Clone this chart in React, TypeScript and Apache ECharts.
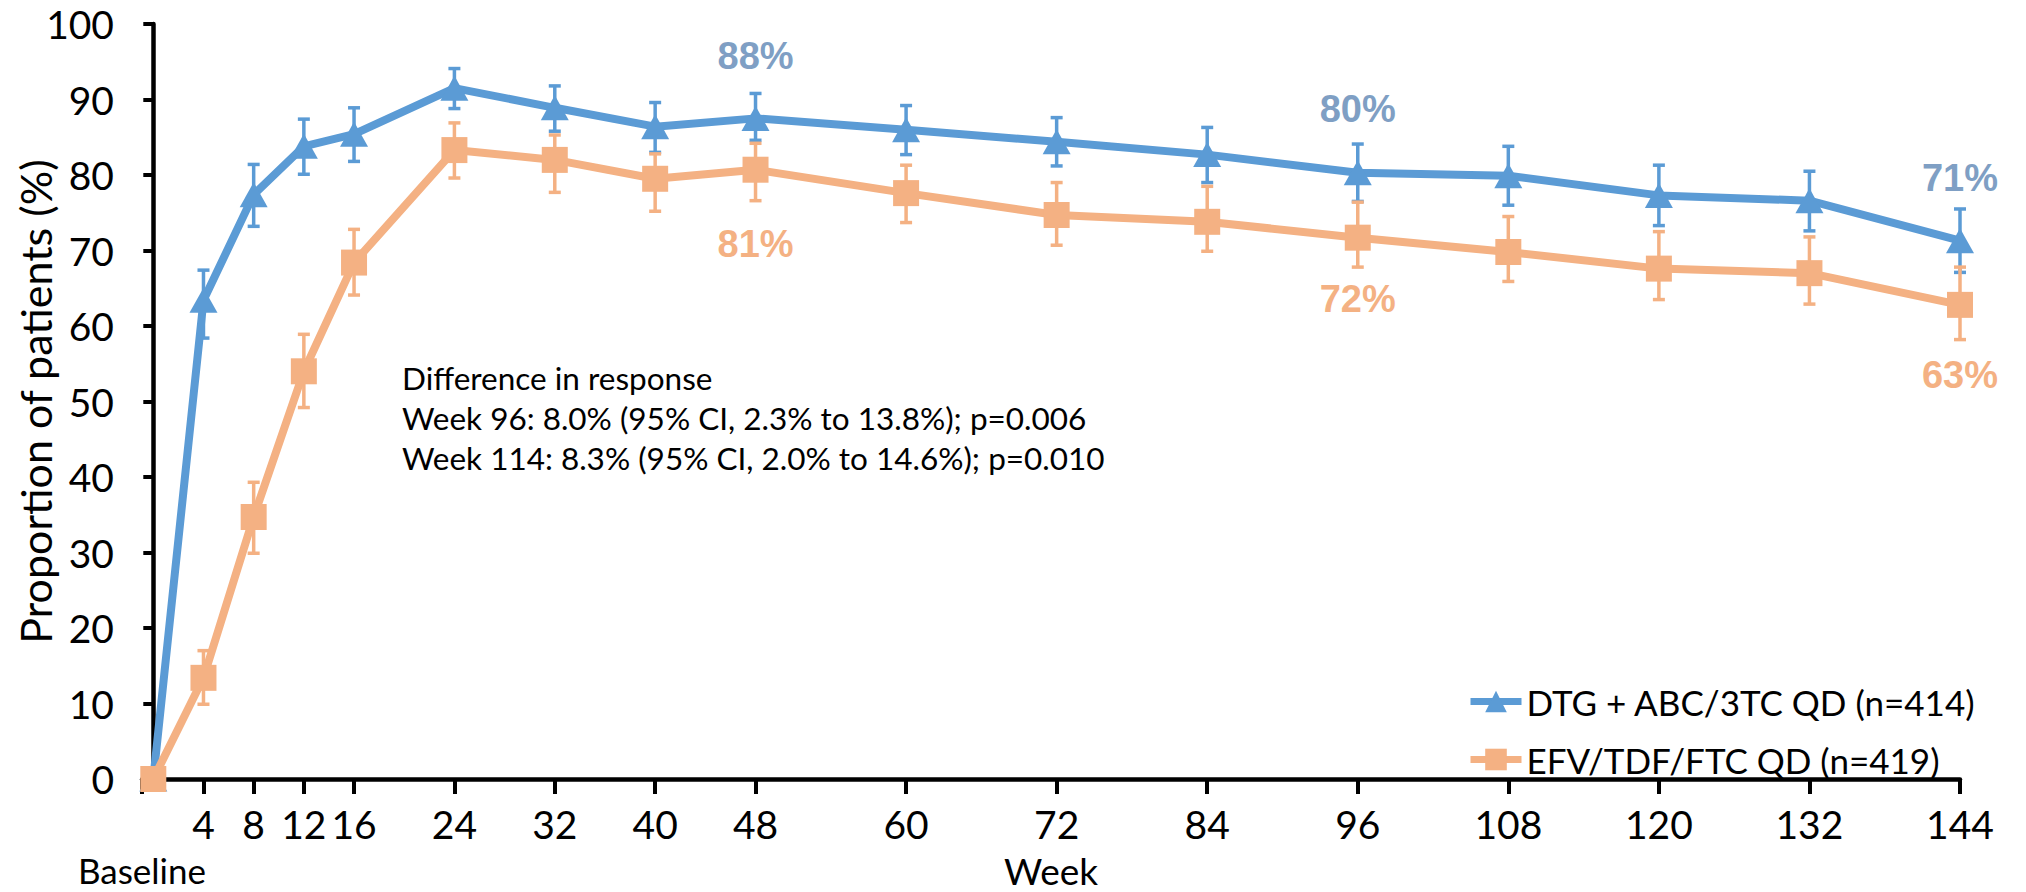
import React, { useEffect, useRef } from "react";
import * as echarts from "echarts";

// ---------- data ----------
const weeks = [0, 4, 8, 12, 16, 24, 32, 40, 48, 60, 72, 84, 96, 108, 120, 132, 144];
const xTickWeeks = [4, 8, 12, 16, 24, 32, 40, 48, 60, 72, 84, 96, 108, 120, 132, 144];
const baselineLabel = "Baseline";

const dtgName = "DTG + ABC/3TC QD (n=414)";
const dtgValues = [0, 63.4, 77.4, 83.8, 85.4, 91.5, 88.9, 86.4, 87.5, 86.0, 84.4, 82.7, 80.3, 79.9, 77.3, 76.6, 71.3];
const dtgLower = [null, 58.4, 73.2, 80.1, 81.8, 88.8, 85.8, 83.0, 84.6, 82.7, 81.2, 79.0, 76.5, 76.0, 73.3, 72.6, 67.1];
const dtgUpper = [null, 67.4, 81.4, 87.4, 88.9, 94.1, 91.8, 89.6, 90.8, 89.2, 87.6, 86.3, 84.1, 83.8, 81.3, 80.5, 75.5];

const efvName = "EFV/TDF/FTC QD (n=419)";
const efvValues = [0, 13.4, 34.7, 54.0, 68.4, 83.3, 82.0, 79.5, 80.7, 77.6, 74.7, 73.8, 71.7, 69.8, 67.6, 67.0, 62.8];
const efvLower = [null, 9.9, 29.9, 49.2, 64.1, 79.6, 77.7, 75.2, 76.6, 73.7, 70.7, 69.9, 67.8, 65.9, 63.5, 62.9, 58.2];
const efvUpper = [null, 17.0, 39.3, 58.9, 72.8, 86.9, 85.3, 82.8, 84.2, 81.3, 79.0, 78.5, 76.4, 74.5, 72.5, 71.8, 67.8];

const labelWeeks = [48, 96, 144];
const dtgLabels = ["88%", "80%", "71%"];
const efvLabels = ["81%", "72%", "63%"];

const annotationLines = [
  "Difference in response",
  "Week 96: 8.0% (95% CI, 2.3% to 13.8%); p=0.006",
  "Week 114: 8.3% (95% CI, 2.0% to 14.6%); p=0.010",
];

// ---------- styles ----------
const BLUE = "#5B9BD5";
const ORANGE = "#F4B183";
const BLUE_LABEL = "#7F9FC4";
const FONT = "Lato, 'Open Sans', sans-serif";
const LABEL_FONT = "'Liberation Sans', Arial, sans-serif";
const X_MIN = -0.9;
const X_MAX = 144;
const DTG_LABEL_DY = [-62, -64, -63];
const EFV_LABEL_DY = [74, 61, 70];

function errorData(lower: (number | null)[], upper: (number | null)[]) {
  const out: number[][] = [];
  weeks.forEach((w, i) => {
    const lo = lower[i];
    const hi = upper[i];
    if (lo != null && hi != null) out.push([w, lo, hi]);
  });
  return out;
}

function errorSeries(lower: (number | null)[], upper: (number | null)[], color: string) {
  return {
    type: "custom",
    silent: true,
    z: 2,
    data: errorData(lower, upper),
    encode: { x: 0, y: [1, 2] },
    renderItem: (params: any, api: any) => {
      const x = api.value(0);
      const lo = api.coord([x, api.value(1)]);
      const hi = api.coord([x, api.value(2)]);
      const hw = 6;
      const style = { stroke: color, lineWidth: 3.5 };
      return {
        type: "group",
        children: [
          { type: "line", shape: { x1: lo[0], y1: lo[1], x2: hi[0], y2: hi[1] }, style },
          { type: "line", shape: { x1: lo[0] - hw, y1: lo[1], x2: lo[0] + hw, y2: lo[1] }, style },
          { type: "line", shape: { x1: hi[0] - hw, y1: hi[1], x2: hi[0] + hw, y2: hi[1] }, style },
        ],
      };
    },
  };
}

function labelSeries(values: number[], labels: string[], color: string, dys: number[]) {
  return {
    type: "custom",
    silent: true,
    z: 5,
    data: labelWeeks.map((w, k) => {
      const i = weeks.indexOf(w);
      return [w, values[i], k];
    }),
    encode: { x: 0, y: 1 },
    renderItem: (params: any, api: any) => {
      const k = api.value(2);
      const p = api.coord([api.value(0), api.value(1)]);
      return {
        type: "text",
        x: p[0],
        y: p[1] + dys[k],
        style: {
          text: labels[k],
          fill: color,
          fontFamily: LABEL_FONT,
          fontWeight: "bold",
          fontSize: 38,
          align: "center",
          verticalAlign: "middle",
        },
      };
    },
  };
}

export default function App() {
  const ref = useRef<HTMLDivElement>(null);

  useEffect(() => {
    document.body.style.margin = "0";
    if (!ref.current) return;
    const chart = echarts.init(ref.current, undefined, { renderer: "svg" });

    const tickLabelStyle = { fontFamily: FONT, fontSize: 39, color: "#000" };

    const option: any = {
      animation: false,
      backgroundColor: "#ffffff",
      grid: { left: 142, right: 66, top: 24, bottom: 113, outerBoundsMode: "none", containLabel: false },
      xAxis: [
        {
          type: "value",
          min: X_MIN,
          max: X_MAX,
          name: "Week",
          nameLocation: "middle",
          nameGap: 72.5,
          nameMoveOverlap: false,
          nameTextStyle: { fontFamily: FONT, fontSize: 37, lineHeight: 37, color: "#000" },
          splitLine: { show: false },
          axisLine: { show: true, lineStyle: { color: "#000", width: 4.5 } },
          axisTick: {
            show: true,
            customValues: [X_MIN, ...xTickWeeks],
            length: 15,
            lineStyle: { color: "#000", width: 4 },
          },
          axisLabel: {
            ...tickLabelStyle,
            lineHeight: 39,
            customValues: xTickWeeks,
            showMinLabel: true,
            showMaxLabel: true,
            margin: 25.5,
          },
        },
        {
          type: "value",
          position: "bottom",
          min: X_MIN,
          max: X_MAX,
          splitLine: { show: false },
          axisLine: { show: false },
          axisTick: { show: false },
          axisLabel: {
            fontFamily: FONT,
            fontSize: 35,
            lineHeight: 35,
            color: "#000",
            customValues: [X_MIN],
            showMinLabel: true,
            formatter: () => baselineLabel,
            margin: 73.5,
          },
        },
      ],
      yAxis: {
        type: "value",
        min: 0,
        max: 100,
        interval: 10,
        name: "Proportion of patients (%)",
        nameLocation: "middle",
        nameGap: 85,
        nameMoveOverlap: false,
        nameTextStyle: { fontFamily: FONT, fontSize: 43, color: "#000" },
        splitLine: { show: false },
        axisLine: { show: true, lineStyle: { color: "#000", width: 4.5 } },
        axisTick: { show: true, length: 10, lineStyle: { color: "#000", width: 4 } },
        axisLabel: { ...tickLabelStyle, margin: 28 },
      },
      legend: {
        orient: "vertical",
        left: 1462,
        top: 679,
        padding: 5,
        itemWidth: 51,
        itemHeight: 27,
        itemGap: 23,
        itemTextGap: 12,
        data: [dtgName, efvName],
        lineStyle: { width: 7 },
        textStyle: { fontFamily: FONT, fontSize: 35, color: "#000", lineHeight: 27 },
      },
      graphic: [
        {
          type: "text",
          left: 402,
          top: 358,
          style: {
            text: annotationLines.join("\n"),
            fontFamily: FONT,
            fontSize: 31.5,
            lineHeight: 40,
            fill: "#000",
          },
        },
      ],
      series: [
        errorSeries(dtgLower, dtgUpper, BLUE),
        errorSeries(efvLower, efvUpper, ORANGE),
        {
          name: dtgName,
          type: "line",
          z: 3,
          data: weeks.map((w, i) => [w, dtgValues[i]]),
          symbol: "triangle",
          symbolSize: [28, 25],
          showAllSymbol: true,
          lineStyle: { color: BLUE, width: 8 },
          itemStyle: { color: BLUE },
        },
        {
          name: efvName,
          type: "line",
          z: 4,
          data: weeks.map((w, i) => [w, efvValues[i]]),
          symbol: "rect",
          symbolSize: 26,
          showAllSymbol: true,
          lineStyle: { color: ORANGE, width: 8 },
          itemStyle: { color: ORANGE },
        },
        labelSeries(dtgValues, dtgLabels, BLUE_LABEL, DTG_LABEL_DY),
        labelSeries(efvValues, efvLabels, ORANGE, EFV_LABEL_DY),
      ],
    };

    chart.setOption(option);
    return () => chart.dispose();
  }, []);

  return (
    <div
      ref={ref}
      style={{ position: "absolute", left: 0, top: 0, width: 2026, height: 892 }}
    />
  );
}
